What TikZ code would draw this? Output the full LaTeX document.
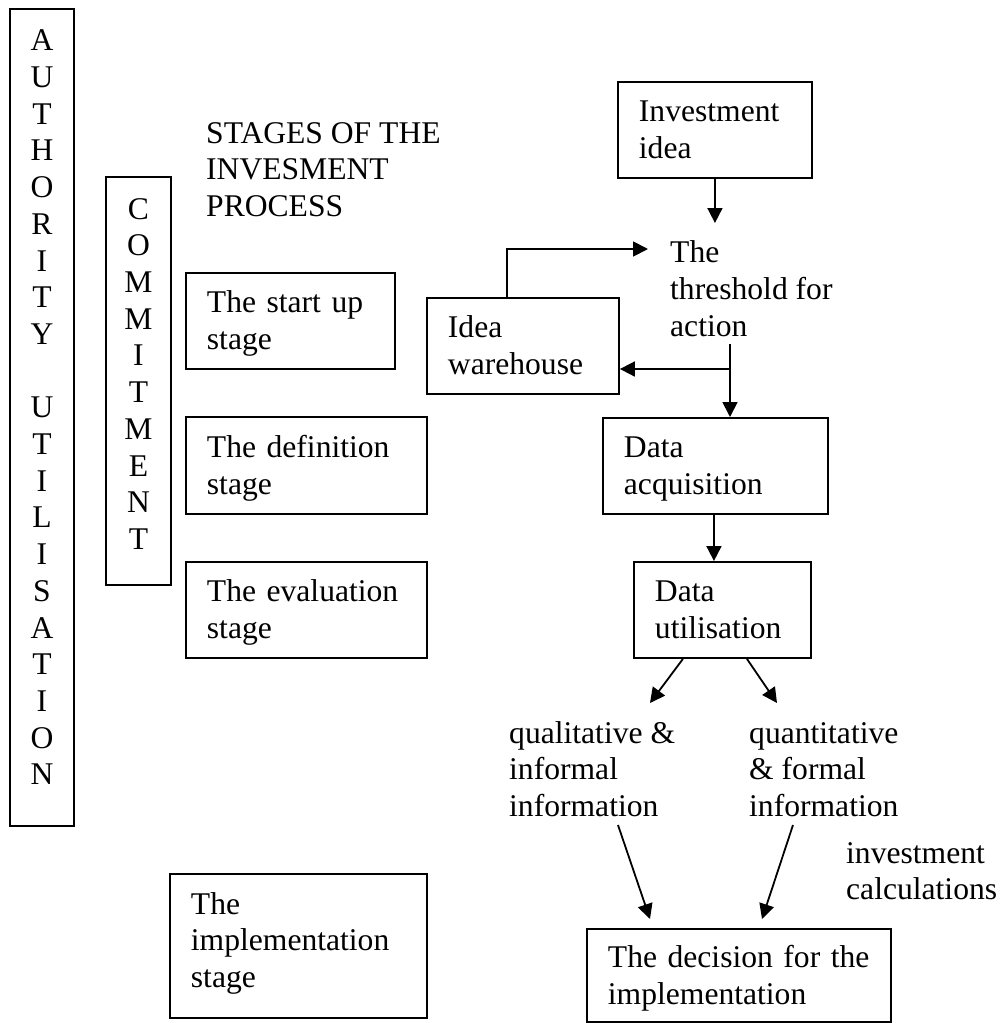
\documentclass[tikz,border=0pt]{standalone}
\usepackage{fontspec}
\setmainfont{Liberation Serif}
\usetikzlibrary{arrows.meta}

% body text size and line pitch
\newcommand\bodyfont{\fontsize{31.6pt}{36.7pt}\selectfont}
% strut spanning exactly one line pitch
\newcommand\ts{\rule[-8pt]{0pt}{36.7pt}}
% extra depth on the last line of a block
\newcommand\tail[1]{\rule[-#1]{0pt}{1pt}}

\tikzset{
  every node/.style={font=\bodyfont},
  stagebox/.style={draw, line width=1.9pt, anchor=north west, inner xsep=21pt,
    inner ysep=0pt, align=left},
  letterbox/.style={draw, line width=1.9pt, anchor=north west, inner sep=0pt,
    align=center},
  freetext/.style={anchor=north west, inner sep=0pt, align=left},
  conn/.style={line width=1.8pt},
  arr/.style={line width=1.8pt, -{Triangle[length=15pt,width=15pt]}}
}

\begin{document}
\begin{tikzpicture}[x=1pt, y=-1pt]
\useasboundingbox (0,0) rectangle (1000,1023);

% vertical lettered bars
\node[letterbox, text width=64pt, minimum height=817pt] (authority) at (9,8)
  {\ts A\\ \ts U\\ \ts T\\ \ts H\\ \ts O\\ \ts R\\ \ts I\\ \ts T\\ \ts Y\\ \ts\\
   \ts U\\ \ts T\\ \ts I\\ \ts L\\ \ts I\\ \ts S\\ \ts A\\ \ts T\\ \ts I\\ \ts O\\
   \ts N\tail{28pt}};
\node[letterbox, text width=65pt, minimum height=408pt] (commitment) at (105,176)
  {\ts C\\ \ts O\\ \ts M\\ \ts M\\ \ts I\\ \ts T\\ \ts M\\ \ts E\\ \ts N\\ \ts T\tail{22pt}};

% title
\node[freetext] (title) at (206,114.3)
  {\ts STAGES OF THE\\ \ts INVESMENT\\ \ts PROCESS};

% stages column
\node[stagebox, text width=167pt, minimum height=96pt] (startup) at (185,272)
  {\ts The start up\\ stage\ts};
\node[stagebox, text width=199pt, minimum height=97pt] (definition) at (185,416)
  {\ts The definition\\ stage\ts};
\node[stagebox, text width=199pt, minimum height=96pt] (evaluation) at (185,561)
  {\ts The evaluation\\ stage\ts};
\node[stagebox, text width=215pt, minimum height=144pt] (implementation) at (169,873)
  {\ts The\\ \ts implementation\\ stage\ts\tail{19pt}};

% process flow
\node[stagebox, text width=152pt, minimum height=96pt] (invest) at (617,81)
  {\ts Investment\\ idea\ts};
\node[freetext, inner xsep=22pt, inner ysep=11pt] (threshold) at (648,223)
  {\ts The\\ \ts threshold for\\ \ts action};
\node[stagebox, text width=150pt, minimum height=96pt] (warehouse) at (426,297)
  {\ts Idea\\ warehouse\ts};
\node[stagebox, text width=183pt, minimum height=96pt] (acquisition) at (602,417)
  {\ts Data\\ acquisition\ts};
\node[stagebox, text width=135pt, minimum height=96pt] (utilisation) at (633,561)
  {\ts Data\\ utilisation\ts};
\node[freetext] (qualitative) at (509,714.3)
  {\ts qualitative \&\\ \ts informal\\ \ts information};
\node[freetext] (quantitative) at (749,714.3)
  {\ts quantitative\\ \ts \& formal\\ \ts information};
\node[freetext] (calculations) at (846,834.3)
  {\ts investment\\ \ts calculations};
\node[stagebox, text width=262pt, minimum height=93pt] (decision) at (586,928)
  {\ts The decision for the\\ implementation\ts};

% connector end points
\coordinate (loopup)  at ([xshift=-16pt]warehouse.north);
\coordinate (thrfoot) at (730,344);
\coordinate (split)   at (730,369);
\coordinate (qualtip) at (650,703);
\coordinate (quantip) at (777,703);
\coordinate (qualfoot) at (618,825);
\coordinate (quanfoot) at (793,825);
\coordinate (decl) at (650,919);
\coordinate (decr) at (762,919);

% connectors
\draw[arr] (invest.south) -- (invest.south |- threshold.north);
\draw[arr] (loopup) |- ([yshift=-26pt]threshold.north west);
\draw[conn] (thrfoot) -- (split);
\draw[arr] (split) -- (split |- acquisition.north);
\draw[arr] (split) -- (split -| warehouse.east);
\draw[arr] ([xshift=-1.5pt]acquisition.south) -- ([xshift=-1.5pt]acquisition.south |- utilisation.north);
\draw[arr] ([xshift=-39.5pt]utilisation.south) -- (qualtip);
\draw[arr] ([xshift=24.5pt]utilisation.south) -- (quantip);
\draw[arr] (qualfoot) -- (decl);
\draw[arr] (quanfoot) -- (decr);
\end{tikzpicture}
\end{document}
